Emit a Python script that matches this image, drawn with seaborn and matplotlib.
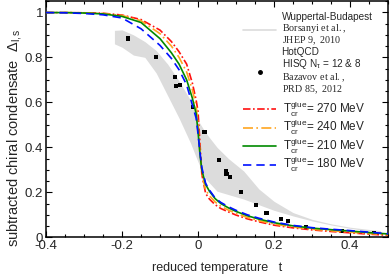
import matplotlib
matplotlib.use("Agg")
import matplotlib.pyplot as plt
from matplotlib.lines import Line2D
from matplotlib.ticker import MultipleLocator, FormatStrFormatter
import seaborn as sns
import pandas as pd

# reduced temperature grid for the model curves
t = [-0.4, -0.35, -0.3, -0.25, -0.2, -0.15, -0.1, -0.07, -0.05, -0.03, -0.015,
     -0.005, 0.0, 0.005, 0.01, 0.02, 0.03, 0.045, 0.06, 0.08, 0.1, 0.13, 0.16,
     0.2, 0.25, 0.3, 0.35, 0.4, 0.45, 0.5]
d270 = [0.999, 0.999, 0.998, 0.996, 0.988, 0.968, 0.921, 0.87, 0.825, 0.77, 0.686,
        0.61, 0.56, 0.42, 0.28, 0.195, 0.17, 0.145, 0.128, 0.113, 0.099, 0.082, 0.069,
        0.054, 0.042, 0.033, 0.026, 0.020, 0.014, 0.009]
d240 = [0.999, 0.999, 0.998, 0.995, 0.986, 0.963, 0.905, 0.85, 0.80, 0.735, 0.656,
        0.585, 0.50, 0.38, 0.28, 0.21, 0.185, 0.157, 0.138, 0.121, 0.106, 0.088, 0.074,
        0.059, 0.046, 0.036, 0.029, 0.023, 0.017, 0.011]
d210 = [0.999, 0.999, 0.997, 0.993, 0.982, 0.955, 0.883, 0.82, 0.77, 0.70, 0.619,
        0.55, 0.47, 0.37, 0.30, 0.235, 0.205, 0.172, 0.150, 0.131, 0.115, 0.096, 0.081,
        0.065, 0.051, 0.041, 0.034, 0.028, 0.021, 0.015]
d180 = [0.999, 0.998, 0.995, 0.989, 0.975, 0.927, 0.853, 0.795, 0.745, 0.678, 0.589,
        0.53, 0.46, 0.38, 0.31, 0.24, 0.21, 0.175, 0.155, 0.136, 0.120, 0.100, 0.085,
        0.068, 0.053, 0.043, 0.036, 0.030, 0.023, 0.016]

# HotQCD HISQ lattice points
t_hisq = [-0.185, -0.110, -0.060, -0.057, -0.048, -0.014, 0.017, 0.056, 0.074,
          0.075, 0.085, 0.113, 0.152, 0.180, 0.218, 0.236, 0.284, 0.379, 0.462]
d_hisq = [0.884, 0.802, 0.713, 0.671, 0.677, 0.580, 0.469, 0.344, 0.296,
          0.281, 0.269, 0.203, 0.144, 0.109, 0.080, 0.072, 0.047, 0.029, 0.018]

# Wuppertal-Budapest band
t_wb = [-0.22, -0.2, -0.17, -0.14, -0.11, -0.08, -0.05, -0.02, 0.0, 0.02, 0.05,
        0.08, 0.12, 0.16, 0.2, 0.25, 0.3, 0.35, 0.4, 0.45, 0.48]
wb_hi = [0.92, 0.922, 0.90, 0.87, 0.83, 0.77, 0.695, 0.61, 0.52, 0.465, 0.40,
         0.35, 0.295, 0.215, 0.16, 0.11, 0.08, 0.06, 0.045, 0.035, 0.03]
wb_lo = [0.86, 0.845, 0.81, 0.80, 0.73, 0.63, 0.53, 0.42, 0.335, 0.26, 0.205,
         0.19, 0.17, 0.145, 0.12, 0.095, 0.073, 0.055, 0.04, 0.028, 0.025]

curves = [("270", d270, "#ff1010", (0, (4.5, 1.5, 1, 1.5))),
          ("240", d240, "#ffa520", (0, (6, 2, 1, 2))),
          ("210", d210, "#008a00", "-"),
          ("180", d180, "#0010ff", (0, (5, 3)))]

sns.set_style("ticks")
plt.rcParams["font.family"] = ["Liberation Sans", "DejaVu Sans"]
plt.rcParams["mathtext.fontset"] = "custom"
plt.rcParams["mathtext.rm"] = "Liberation Serif"
plt.rcParams["mathtext.sf"] = "Liberation Sans"
plt.rcParams["mathtext.it"] = "Liberation Sans:italic"
plt.rcParams["axes.unicode_minus"] = False

fig = plt.figure(figsize=(3.9, 2.75), dpi=100)
ax = fig.add_axes([0.118, 0.137, 0.877, 0.859])

ax.fill_between(t_wb, wb_lo, wb_hi, color="#dcdcdc", lw=0)
df_h = pd.DataFrame({"t": t_hisq, "d": d_hisq})
sns.scatterplot(data=df_h, x="t", y="d", marker="s", s=9, color="black",
                edgecolor="none", ax=ax, zorder=3)

for name, vals, col, ls in curves:
    df = pd.DataFrame({"t": t, "d": vals})
    sns.lineplot(data=df, x="t", y="d", color=col, linestyle=ls, lw=1.2, ax=ax,
                 zorder=4)

ax.set_xlim(-0.4, 0.5)
ax.set_ylim(0, 1.05)
ax.xaxis.set_major_locator(MultipleLocator(0.2))
ax.xaxis.set_minor_locator(MultipleLocator(0.05))
ax.yaxis.set_major_locator(MultipleLocator(0.2))
ax.yaxis.set_minor_locator(MultipleLocator(0.05))
ax.xaxis.set_major_formatter(FormatStrFormatter("%g"))
ax.yaxis.set_major_formatter(FormatStrFormatter("%g"))
ax.tick_params(which="both", direction="in", top=True, right=True,
               labelsize=9.5, width=0.8, color="black")
ax.tick_params(which="major", length=4.5, pad=2)
ax.tick_params(which="minor", length=2.2)
for sp in ax.spines.values():
    sp.set_linewidth(1.1)
    sp.set_color("black")

ax.set_xlabel("reduced temperature   t", fontsize=9)
ax.set_ylabel("subtracted chiral condensate  Δ$_{\\mathsf{l,s}}$", fontsize=10.5)
ax.xaxis.set_label_coords(0.5, -0.105)
ax.yaxis.set_label_coords(-0.065, 0.42)

# legend: data sources
h_src = [Line2D([], [], color="#dcdcdc", lw=1.2),
         Line2D([], [], color="black", marker="o", ms=2.5, ls="none")]
l_src = ["Wuppertal-Budapest\n$\\mathrm{Borsanyi\\ et\\ al.,}$\n$\\mathrm{JHEP\\ 9,\\ 2010}$",
         "HotQCD\nHISQ N$_{\\mathsf{\\tau}}$ = 12 & 8\n$\\mathrm{Bazavov\\ et\\ al.,}$\n$\\mathrm{PRD\\ 85,\\ 2012}$"]
leg1 = ax.legend(h_src, l_src, loc="upper left", bbox_to_anchor=(0.576, 0.955),
                 frameon=False, fontsize=7.2, handlelength=3.3, handletextpad=0.55,
                 labelspacing=0.0, borderpad=0, borderaxespad=0)
for txt in leg1.get_texts():
    txt.set_linespacing(1.0)
ax.add_artist(leg1)

h_t = [Line2D([], [], color=c, ls=s, lw=1.2) for _, _, c, s in curves]
l_t = ["T$_{\\mathsf{cr}}^{\\mathsf{glue}}$= %s MeV" % n for n, _, _, _ in curves]
ax.legend(h_t, l_t, loc="upper left", bbox_to_anchor=(0.576, 0.585),
          frameon=False, fontsize=8.5, handlelength=2.8, handletextpad=0.55,
          labelspacing=-0.08, borderpad=0, borderaxespad=0)

fig.savefig("out.png", dpi=100)
